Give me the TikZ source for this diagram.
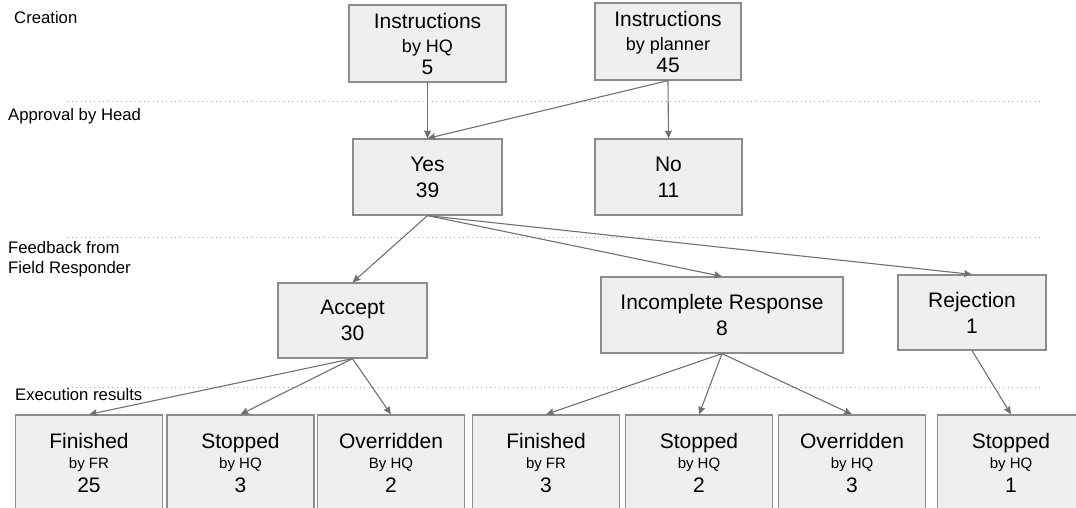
\documentclass[tikz,border=0pt]{standalone}
\usepackage{fontspec}
\setmainfont{Liberation Sans}
\usetikzlibrary{arrows.meta}
\definecolor{boxfill}{HTML}{EFEFEF}
\definecolor{boxline}{HTML}{8C8C8C}
\definecolor{flowgray}{HTML}{707070}
\definecolor{dotgray}{HTML}{AAAAAA}
\newcommand{\bytop}[1]{{\fontsize{18}{22}\selectfont #1}}
\newcommand{\bybottom}[1]{{\fontsize{15}{18}\selectfont #1}}

\begin{document}
\begin{tikzpicture}[x=1pt,y=-1pt,
  every node/.style={font=\fontsize{21}{26}\selectfont},
  box/.style={draw=boxline,fill=boxfill,line width=1.2pt,inner sep=0pt,align=center},
  result/.style={box,minimum width=147pt,minimum height=96pt},
  rowlabel/.style={anchor=west,align=left,inner sep=0pt,font=\fontsize{16.7}{20}\selectfont},
  flow/.style={draw=flowgray,line width=1.1pt,-{Stealth[length=8pt,width=7pt,inset=1pt]}},
  divider/.style={dotgray,line width=1pt,dash pattern=on 1pt off 3.5pt}]
\path[use as bounding box] (0,0) rectangle (1076,508);
\clip (0,0) rectangle (1076,508);
\node[rowlabel] (creation) at (14,18) {Creation};
\node[rowlabel] (approval) at (8,116) {Approval by Head};
\node[rowlabel] (feedback) at (8,259) {Feedback from\\Field Responder};
\node[rowlabel] (execution) at (15,395) {Execution results};
\draw[divider] (67,102) -- (1043,102);
\draw[divider] (67,237) -- (1043,237);
\draw[divider] (67,387) -- (1043,387);
\node[box,minimum width=157pt,minimum height=77pt] (hq) at (427.5,43.5) {Instructions\\[-2pt]\bytop{by HQ}\\[-4pt]5};
\node[box,minimum width=146pt,minimum height=77pt] (planner) at (668,41.5) {Instructions\\[-2pt]\bytop{by planner}\\[-4pt]45};
\node[box,minimum width=149pt,minimum height=76pt] (yes) at (427.5,177) {Yes\\39};
\node[box,minimum width=147pt,minimum height=76pt] (no) at (668.5,177) {No\\11};
\node[box,minimum width=149pt,minimum height=75pt] (accept) at (352.5,320.5) {Accept\\30};
\node[box,minimum width=242pt,minimum height=76pt] (incomplete) at (722,315) {Incomplete Response\\8};
\node[box,minimum width=148pt,minimum height=75pt] (rejection) at (972,312.5) {Rejection\\1};
\node[result] (accfin) at (89,463) {Finished\\[-6pt]\bybottom{by FR}\\[-2pt]25};
\node[result] (accstop) at (240.5,463) {Stopped\\[-6pt]\bybottom{by HQ}\\[-2pt]3};
\node[result] (accover) at (391,463) {Overridden\\[-6pt]\bybottom{By HQ}\\[-2pt]2};
\node[result] (incfin) at (546,463) {Finished\\[-6pt]\bybottom{by FR}\\[-2pt]3};
\node[result] (incstop) at (699,463) {Stopped\\[-6pt]\bybottom{by HQ}\\[-2pt]2};
\node[result] (incover) at (852,463) {Overridden\\[-6pt]\bybottom{by HQ}\\[-2pt]3};
\node[result] (rejstop) at (1011,463) {Stopped\\[-6pt]\bybottom{by HQ}\\[-2pt]1};
\draw[flow] (hq.south) -- (yes.north);
\draw[flow] (planner.south) -- (yes.north);
\draw[flow] (planner.south) -- (no.north);
\draw[flow] (yes.south) -- (accept.north);
\draw[flow] (yes.south) -- (incomplete.north);
\draw[flow] (yes.south) -- (rejection.north);
\draw[flow] (accept.south) -- (accfin.north);
\draw[flow] (accept.south) -- (accstop.north);
\draw[flow] (accept.south) -- (accover.north);
\draw[flow] (incomplete.south) -- (incfin.north);
\draw[flow] (incomplete.south) -- (incstop.north);
\draw[flow] (incomplete.south) -- (incover.north);
\draw[flow] (rejection.south) -- (rejstop.north);
\end{tikzpicture}
\end{document}
